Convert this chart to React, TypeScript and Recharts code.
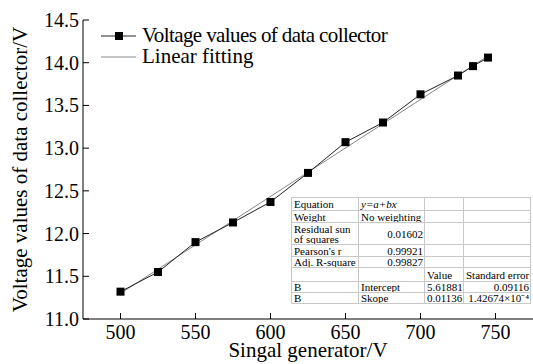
import React from 'react';
import { LineChart, Line, XAxis, YAxis } from 'recharts';

const signalVolts = [500, 525, 550, 575, 600, 625, 650, 675, 700, 725, 735, 745];
const collectorVolts = [11.32, 11.55, 11.9, 12.13, 12.37, 12.71, 13.07, 13.3, 13.63, 13.85, 13.96, 14.06];
const fitX = [500, 745];
const fitY = [11.3, 14.08];
const xTicks = [500, 550, 600, 650, 700, 750];
const yTicks = [11.0, 11.5, 12.0, 12.5, 13.0, 13.5, 14.0, 14.5];

const measured = signalVolts.map((x, i) => ({ x, y: collectorVolts[i] }));
const fitted = fitX.map((x, i) => ({ x, y: fitY[i] }));

const FONT = '"Liberation Serif", "Times New Roman", Times, serif';

const tableRows: [string, string, string, string][] = [
  ['Equation', 'y=a+bx', '', ''],
  ['Weight', 'No weighting', '', ''],
  ['Residual sun\nof squares', '0.01602', '', ''],
  ["Pearson's r", '0.99921', '', ''],
  ['Adj. R-square', '0.99827', '', ''],
  ['', '', 'Value', 'Standard error'],
  ['B', 'Intercept', '5.61881', '0.09116'],
  ['B', 'Skope', '0.01136', '1.42674×10⁻⁴'],
];
const rowHeights = [13, 12, 22, 12, 11, 14, 11, 11];
const colWidths = [67, 66, 39, 67];
// which cells are right aligned
const rightAligned = (r: number, c: number) => (c === 1 && r >= 2 && r <= 4) || (c === 3 && r >= 6);

const SquareDot = (props: any) => {
  const { cx, cy } = props;
  if (cx == null || cy == null) return null;
  return <rect x={cx - 4} y={cy - 4} width={8} height={8} fill="#000" />;
};

// tick coords arrive already shifted by tickSize (-6)
const XTick = (props: any) => {
  const { x, y, payload } = props;
  return (
    <text x={x} y={y + 26} textAnchor="middle" fill="#000" style={{ fontFamily: FONT, fontSize: 20 }}>
      {payload.value}
    </text>
  );
};

const YTick = (props: any) => {
  const { x, y, payload } = props;
  return (
    <text x={x - 10} y={y + 7} textAnchor="end" fill="#000" style={{ fontFamily: FONT, fontSize: 20 }}>
      {Number(payload.value).toFixed(1)}
    </text>
  );
};

const LegendBox = () => (
  <div
    style={{
      position: 'absolute',
      left: 98,
      top: 25,
      fontFamily: FONT,
      fontSize: 21,
      color: '#000',
      lineHeight: '21px',
    }}
  >
    <div style={{ display: 'flex', alignItems: 'center' }}>
      <svg width={40} height={21}>
        <line x1={3} y1={11} x2={38} y2={11} stroke="#222" strokeWidth={1} />
        <rect x={17} y={7} width={8} height={8} fill="#000" />
      </svg>
      <span style={{ marginLeft: 4, letterSpacing: -0.6 }}>Voltage values of data collector</span>
    </div>
    <div style={{ display: 'flex', alignItems: 'center' }}>
      <svg width={40} height={21}>
        <line x1={3} y1={11} x2={38} y2={11} stroke="#888" strokeWidth={1} />
      </svg>
      <span style={{ marginLeft: 4 }}>Linear fitting</span>
    </div>
  </div>
);

const FitTable = () => (
  <table
    style={{
      position: 'absolute',
      left: 291,
      top: 197,
      width: 239,
      borderCollapse: 'collapse',
      fontFamily: FONT,
      fontSize: 11,
      background: '#fff',
      border: '1px solid #999',
      tableLayout: 'fixed',
    }}
  >
    <colgroup>
      {colWidths.map((w, i) => (
        <col key={i} style={{ width: w }} />
      ))}
    </colgroup>
    <tbody>
      {tableRows.map((row, r) => (
        <tr key={r} style={{ height: rowHeights[r] }}>
          {row.map((cell, c) => (
            <td
              key={c}
              style={{
                border: '1px solid #c8c8c8',
                padding: '0 1px 0 2px',
                lineHeight: '10px',
                whiteSpace: 'pre',
                textAlign: rightAligned(r, c) ? 'right' : 'left',
                fontStyle: r === 0 && c === 1 ? 'italic' : 'normal',
                verticalAlign: 'middle',
                overflow: 'hidden',
              }}
            >
              {cell}
            </td>
          ))}
        </tr>
      ))}
    </tbody>
  </table>
);

export default function App() {
  return (
    <div style={{ position: 'absolute', left: 0, top: 0, width: 533, height: 364, background: '#fff', fontFamily: FONT }}>
      <LineChart width={533} height={364} margin={{ top: 20, right: 0, bottom: 0, left: 0 }} style={{ fontFamily: FONT }}>
        <XAxis
          xAxisId="top"
          orientation="top"
          type="number"
          dataKey="x"
          domain={[475, 775]}
          height={0}
          tick={false}
          tickLine={false}
          axisLine={{ stroke: '#000', strokeWidth: 1 }}
        />
        <XAxis
          type="number"
          dataKey="x"
          domain={[475, 775]}
          ticks={xTicks}
          height={45}
          tickSize={-6}
          tickMargin={0}
          tick={<XTick />}
          axisLine={{ stroke: '#000', strokeWidth: 1 }}
          tickLine={{ stroke: '#000' }}
          allowDataOverflow
          label={{
            value: 'Singal generator/V',
            position: 'insideBottom',
            offset: 7,
            fill: '#000',
            style: { fontFamily: FONT, fontSize: 21 },
          }}
        />
        <YAxis
          type="number"
          domain={[11, 14.5]}
          ticks={yTicks}
          width={83}
          tickSize={-6}
          tickMargin={0}
          tick={<YTick />}
          axisLine={{ stroke: '#000', strokeWidth: 1 }}
          tickLine={{ stroke: '#000' }}
          label={{
            value: 'Voltage values of data collector/V',
            angle: -90,
            position: 'insideLeft',
            offset: 20,
            fill: '#000',
            style: { textAnchor: 'middle', fontFamily: FONT, fontSize: 21 },
          }}
        />
        <Line
          data={fitted}
          dataKey="y"
          stroke="#888"
          strokeWidth={1}
          dot={false}
          isAnimationActive={false}
        />
        <Line
          data={measured}
          dataKey="y"
          stroke="#222"
          strokeWidth={1}
          dot={<SquareDot />}
          isAnimationActive={false}
        />
      </LineChart>
      <LegendBox />
      <FitTable />
    </div>
  );
}
